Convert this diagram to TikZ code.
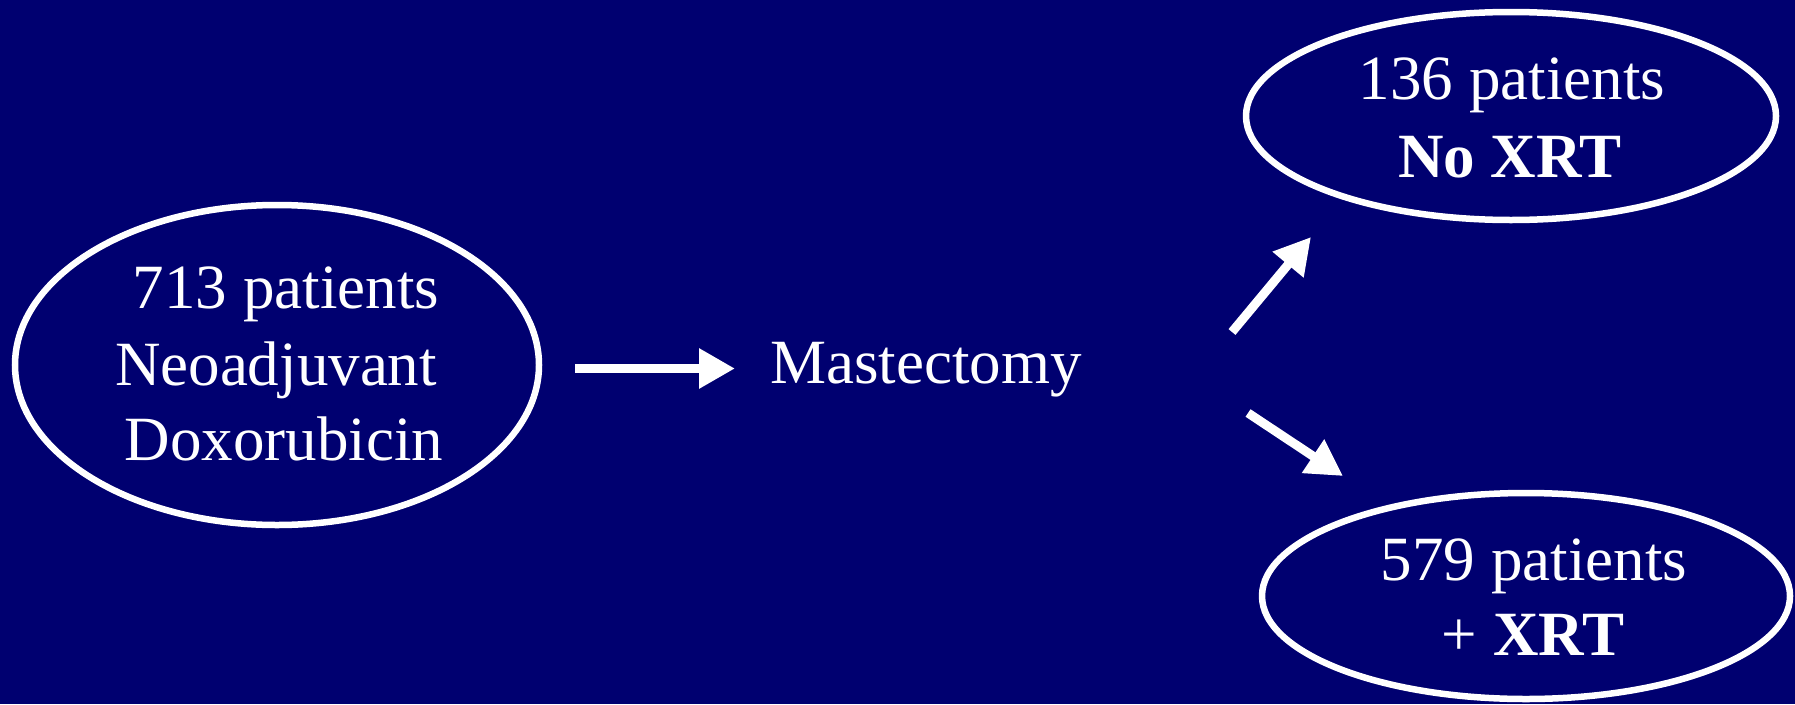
\documentclass[tikz,border=0pt]{standalone}
\usepackage{fontspec}
\setmainfont{Liberation Serif}
\usetikzlibrary{arrows.meta,shapes.geometric}
\definecolor{navybg}{RGB}{0,0,112}
\begin{document}
\begin{tikzpicture}[x=1pt,y=-1pt,
  oval/.style={draw=white,line width=6.5pt,ellipse,inner sep=0pt},
  txt/.style={text=white,anchor=base,inner sep=0pt,font=\fontsize{63}{77}\selectfont},
  arr/.style={draw=white,line width=9pt,-{Triangle[length=36pt,width=38pt]}}
]
\fill[navybg] (0,0) rectangle (1795,704);
\useasboundingbox (0,0) rectangle (1795,704);

% ellipses
\node[oval,minimum width=524pt,minimum height=320pt] (start) at (277,365) {};
\node[oval,minimum width=530pt,minimum height=208pt] (noxrt) at (1511,116) {};
\node[oval,minimum width=528pt,minimum height=206pt] (xrt) at (1526,596) {};

% texts
\node[txt] (s1) at (286,308) {713 patients};
\node[txt] (s2) at (276,385) {Neoadjuvant};
\node[txt] (s3) at (284,460) {Doxorubicin};
\node[txt] (mast) at (926,383) {Mastectomy};
\node[txt] (n1) at (1512,99) {136 patients};
\node[txt] (n2) at (1510,177) {\textbf{No XRT}};
\node[txt] (x1) at (1534,580) {579 patients};
\node[txt] (x2) at (1533,655) {+ \textbf{XRT}};

% arrows
\coordinate (a1s) at (575,368.5);
\coordinate (a1e) at (735,368.5);
\coordinate (a2s) at (1232,332);
\coordinate (a2e) at (1311,237);
\coordinate (a3s) at (1248,413);
\coordinate (a3e) at (1343,476);
\draw[arr] (a1s) -- (a1e);
\draw[arr] (a2s) -- (a2e);
\draw[arr] (a3s) -- (a3e);
\end{tikzpicture}
\end{document}
